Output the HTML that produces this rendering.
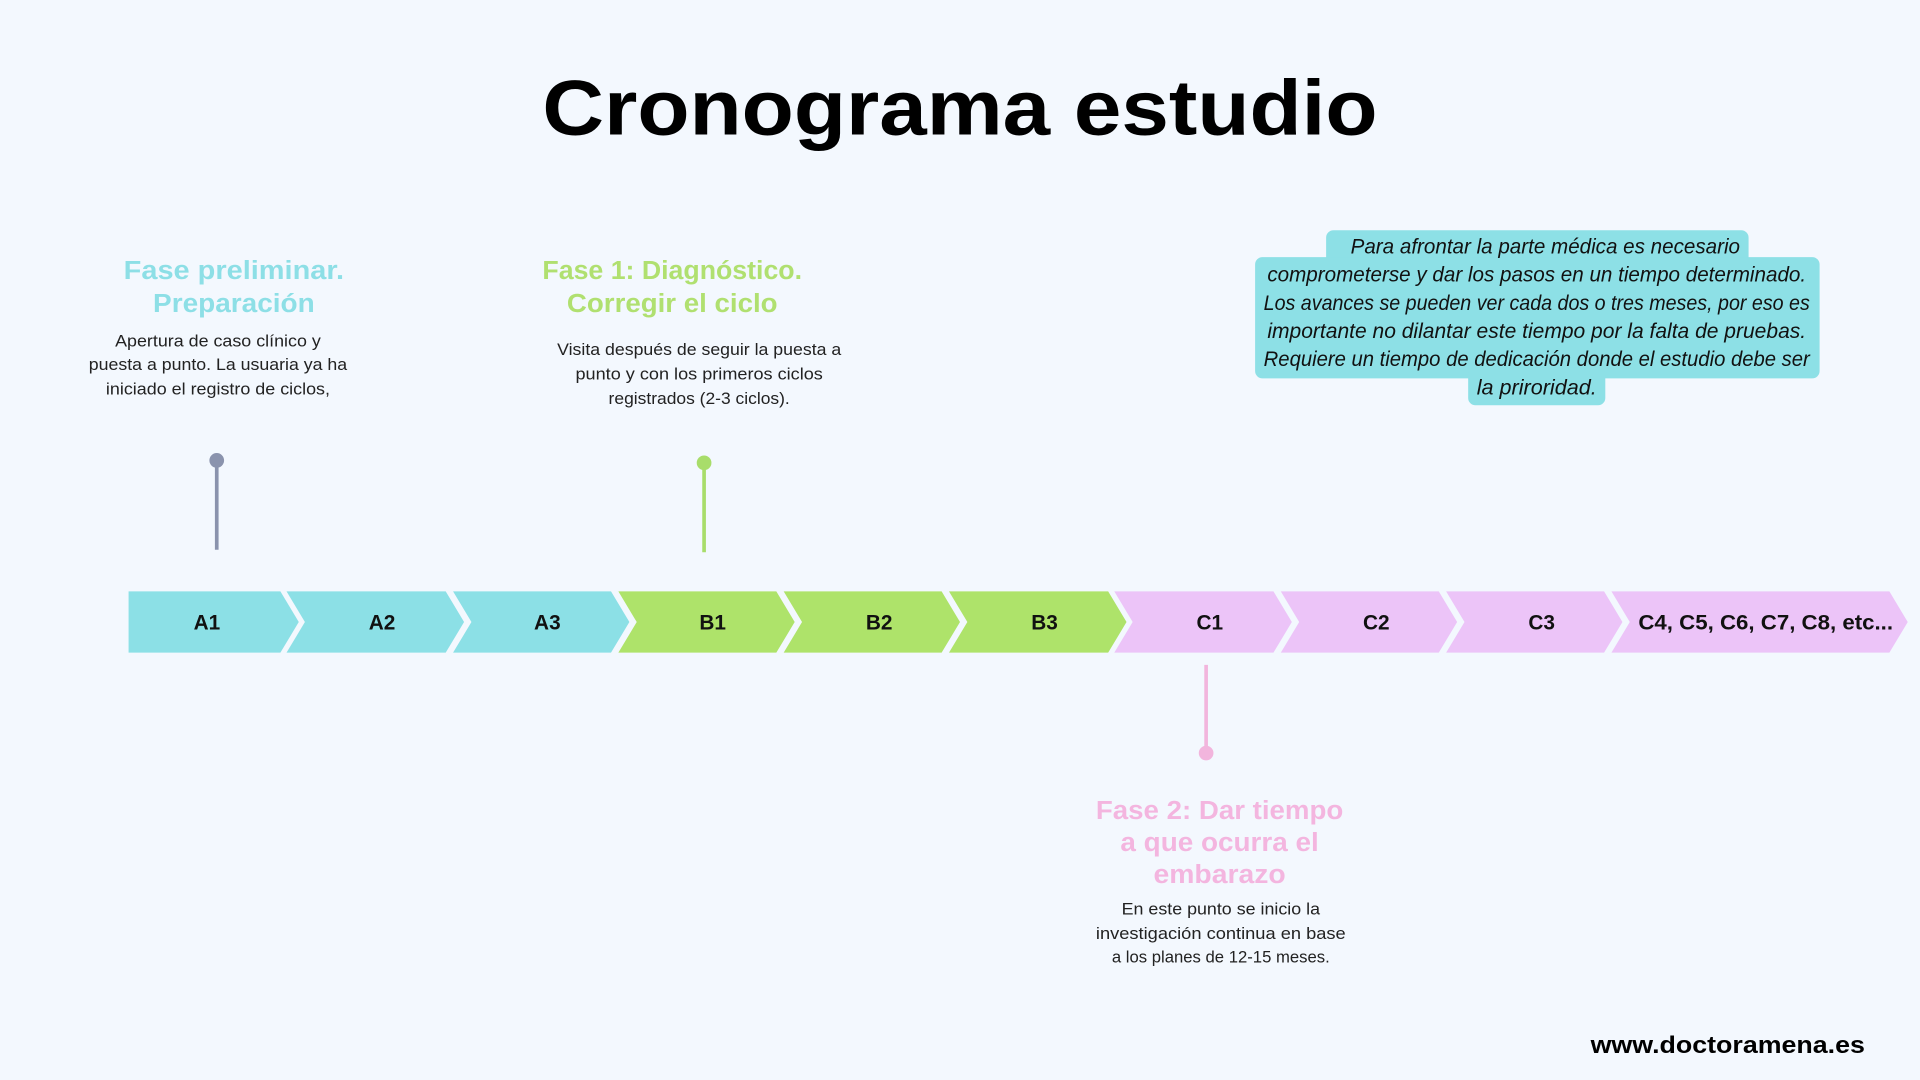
<!DOCTYPE html>
<html><head><meta charset="utf-8"><style>
html,body{margin:0;padding:0;background:#f3f8fe;}
svg{display:block;}
text{font-family:"Liberation Sans",sans-serif;}
</style></head><body>
<svg width="1920" height="1080" viewBox="0 0 1568 882" xmlns="http://www.w3.org/2000/svg">
<rect width="1568" height="882" fill="#f3f8fe"/>
<text x="784" y="110" text-anchor="middle" font-size="64" font-weight="bold" fill="#000" textLength="682" lengthAdjust="spacingAndGlyphs">Cronograma estudio</text>

<g>
<polygon points="105,483 229,483 244,508 229,533 105,533" fill="#8ce0e6"/>
<polygon points="234,483 364,483 379,508 364,533 234,533 249,508" fill="#8ce0e6"/>
<polygon points="370,483 499,483 514,508 499,533 370,533 385,508" fill="#8ce0e6"/>
<polygon points="505,483 634,483 649,508 634,533 505,533 520,508" fill="#aee36a"/>
<polygon points="640,483 769,483 784,508 769,533 640,533 655,508" fill="#aee36a"/>
<polygon points="775,483 905,483 920,508 905,533 775,533 790,508" fill="#aee36a"/>
<polygon points="910,483 1040,483 1055,508 1040,533 910,533 925,508" fill="#ecc4f8"/>
<polygon points="1046,483 1175,483 1190,508 1175,533 1046,533 1061,508" fill="#ecc4f8"/>
<polygon points="1181,483 1310,483 1325,508 1310,533 1181,533 1196,508" fill="#ecc4f8"/>
<polygon points="1316,483 1543,483 1558,508 1543,533 1316,533 1331,508" fill="#ecc4f8"/>
</g>
<g font-size="17" font-weight="bold" fill="#111" text-anchor="middle">
<text x="169" y="514">A1</text><text x="312" y="514">A2</text><text x="447" y="514">A3</text>
<text x="582" y="514">B1</text><text x="718" y="514">B2</text><text x="853" y="514">B3</text>
<text x="988" y="514">C1</text><text x="1124" y="514">C2</text><text x="1259" y="514">C3</text>
<text x="1442" y="514" textLength="208" lengthAdjust="spacingAndGlyphs">C4, C5, C6, C7, C8, etc...</text>
</g>

<line x1="177" y1="376" x2="177" y2="449" stroke="#8a93ad" stroke-width="3"/>
<circle cx="177" cy="376" r="6" fill="#8a93ad"/>
<line x1="575" y1="378" x2="575" y2="451" stroke="#a8dd6a" stroke-width="3"/>
<circle cx="575" cy="378" r="6" fill="#a8dd6a"/>
<line x1="985" y1="543" x2="985" y2="615" stroke="#f2b5dd" stroke-width="3"/>
<circle cx="985" cy="615" r="6" fill="#f2b5dd"/>

<g font-size="21" font-weight="bold" text-anchor="middle" fill="#8ddfe6">
<text x="191" y="228" textLength="180" lengthAdjust="spacingAndGlyphs">Fase  preliminar.</text>
<text x="191" y="255" textLength="132" lengthAdjust="spacingAndGlyphs">Preparación</text>
</g>
<g font-size="13.5" text-anchor="middle" fill="#222">
<text x="178" y="283" textLength="168" lengthAdjust="spacingAndGlyphs">Apertura de caso clínico y</text>
<text x="178" y="302" textLength="211" lengthAdjust="spacingAndGlyphs">puesta a punto. La usuaria ya ha</text>
<text x="178" y="322" textLength="183" lengthAdjust="spacingAndGlyphs">iniciado el registro de ciclos,</text>
</g>
<g font-size="21" font-weight="bold" text-anchor="middle" fill="#b0e070">
<text x="549" y="228" textLength="212" lengthAdjust="spacingAndGlyphs">Fase 1: Diagnóstico.</text>
<text x="549" y="255" textLength="172" lengthAdjust="spacingAndGlyphs">Corregir el ciclo</text>
</g>
<g font-size="13.5" text-anchor="middle" fill="#222">
<text x="571" y="290" textLength="232" lengthAdjust="spacingAndGlyphs">Visita después de seguir la puesta a</text>
<text x="571" y="310" textLength="202" lengthAdjust="spacingAndGlyphs">punto y con los primeros ciclos</text>
<text x="571" y="330" textLength="148" lengthAdjust="spacingAndGlyphs">registrados (2-3 ciclos).</text>
</g>
<g font-size="21" font-weight="bold" text-anchor="middle" fill="#f3b5df">
<text x="996" y="669" textLength="202" lengthAdjust="spacingAndGlyphs">Fase 2: Dar tiempo</text>
<text x="996" y="695" textLength="162" lengthAdjust="spacingAndGlyphs">a que ocurra el</text>
<text x="996" y="721" textLength="108" lengthAdjust="spacingAndGlyphs">embarazo</text>
</g>
<g font-size="13.5" text-anchor="middle" fill="#222">
<text x="997" y="747" textLength="162" lengthAdjust="spacingAndGlyphs">En este punto se inicio la</text>
<text x="997" y="767" textLength="204" lengthAdjust="spacingAndGlyphs">investigación continua en base</text>
<text x="997" y="786" textLength="178" lengthAdjust="spacingAndGlyphs">a los planes de 12-15 meses.</text>
</g>

<g fill="#8de0e6">
<rect x="1083" y="188" width="345" height="28" rx="6"/>
<rect x="1025" y="210" width="461" height="99" rx="6"/>
<rect x="1199" y="300" width="112" height="31" rx="6"/>
</g>
<g font-size="17" font-style="italic" text-anchor="middle" fill="#111">
<text x="1262" y="207" textLength="318" lengthAdjust="spacingAndGlyphs">Para afrontar la parte médica es necesario</text>
<text x="1255" y="230" textLength="440" lengthAdjust="spacingAndGlyphs">comprometerse y dar los pasos en un tiempo determinado.</text>
<text x="1255" y="253" textLength="446" lengthAdjust="spacingAndGlyphs">Los avances se pueden ver cada dos o tres meses, por eso es</text>
<text x="1255" y="276" textLength="440" lengthAdjust="spacingAndGlyphs">importante no dilantar este tiempo por la falta de pruebas.</text>
<text x="1255" y="299" textLength="446" lengthAdjust="spacingAndGlyphs">Requiere un tiempo de dedicación donde el estudio debe ser</text>
<text x="1255" y="322" textLength="98" lengthAdjust="spacingAndGlyphs">la priroridad.</text>
</g>

<text x="1523" y="860" text-anchor="end" font-size="20" font-weight="bold" fill="#000" textLength="224" lengthAdjust="spacingAndGlyphs">www.doctoramena.es</text>
</svg>
</body></html>
